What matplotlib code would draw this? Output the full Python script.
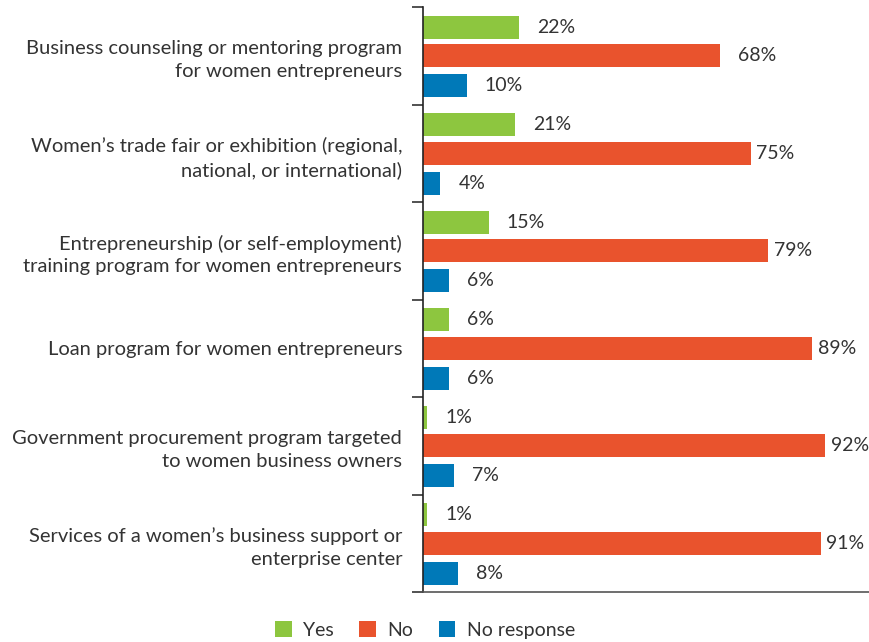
import matplotlib.pyplot as plt
import numpy as np

plt.rcParams['font.family'] = ['Lato', 'DejaVu Sans']

categories = [
    "Business counseling or mentoring program\nfor women entrepreneurs",
    "Women\u2019s trade fair or exhibition (regional,\nnational, or international)",
    "Entrepreneurship (or self-employment)\ntraining program for women entrepreneurs",
    "Loan program for women entrepreneurs",
    "Government procurement program targeted\nto women business owners",
    "Services of a women\u2019s business support or\nenterprise center",
]
yes = [22, 21, 15, 6, 1, 1]
no = [68, 75, 79, 89, 92, 91]
no_response = [10, 4, 6, 6, 7, 8]

series = [("Yes", yes, "#8DC63F"),
          ("No", no, "#E9532D"),
          ("No response", no_response, "#0079B8")]
offsets = [-0.29, 0.0, 0.31]
bar_h = 0.236
text_col = "#333333"

fig = plt.figure(figsize=(8.69, 6.42), dpi=100)
ax = fig.add_axes([423 / 869, 1 - 592 / 642, 1 - 423 / 869, 585 / 642])

y = np.arange(len(categories))
for (name, vals, col), off in zip(series, offsets):
    bars = ax.barh(y + off, vals, height=bar_h, color=col, label=name)
    for b, v in zip(bars, vals):
        # long bars get their label tucked in closer
        gap = 13 if v < 70 else 4
        ax.annotate(f"{v}%", (b.get_width(), b.get_y() + b.get_height() / 2),
                    xytext=(gap, 0), textcoords='offset points',
                    va='center', ha='left', fontsize=14, color=text_col)

ax.set_xlim(0, 102)
ax.set_ylim(len(categories) - 0.5, -0.5)

ax.set_yticks(y)
ax.set_yticklabels(categories, fontsize=14.5, color=text_col, linespacing=1.4)
ax.tick_params(axis='y', which='major', length=0, pad=15)
ax.set_yticks(np.arange(-0.5, len(categories)), minor=True)
ax.tick_params(axis='y', which='minor', length=8, width=1.2, color='#333333')
ax.set_xticks([])

for s in ['top', 'right']:
    ax.spines[s].set_visible(False)
ax.spines['left'].set_color('#222222')
ax.spines['bottom'].set_color('#555555')
ax.spines['left'].set_linewidth(1.2)
ax.spines['bottom'].set_linewidth(1.2)

fig.legend(loc='center', bbox_to_anchor=(425 / 869, 1 - 630 / 642), ncol=3,
           frameon=False, fontsize=14, handlelength=0.85, handleheight=0.85,
           handletextpad=0.6, columnspacing=1.3, labelcolor=text_col)

fig.savefig("out.png", dpi=100)
